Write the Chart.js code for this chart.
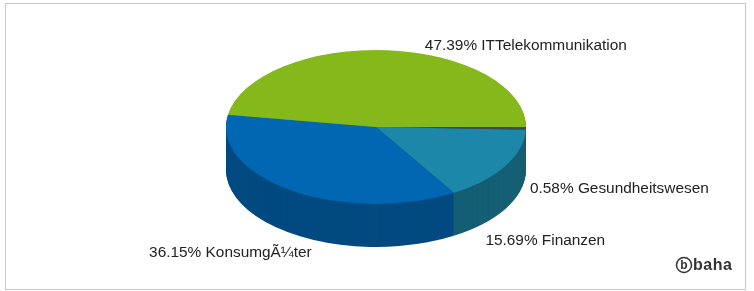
<!DOCTYPE html>
<html>
<head>
    <meta charset="utf-8">
    <title>Branchenverteilung</title>
    <script src="https://cdn.jsdelivr.net/npm/chart.js"></script>
    <style>
        body {
            margin: 0;
            background: #fff;
        }
        .frame {
            position: absolute;
            left: 5px;
            top: 3px;
            width: 741px;
            height: 287px;
            box-sizing: border-box;
            border: 1px solid #c8c8c8;
        }
        canvas {
            position: absolute;
            left: 0;
            top: 0;
        }
    </style>
</head>
<body>
    <div class="frame"></div>
    <canvas id="pieChart" width="754" height="291"></canvas>

    <script>
        // data, clockwise from 3 o'clock
        const categories = ["Gesundheitswesen", "Finanzen", "KonsumgÃ¼ter", "ITTelekommunikation"];
        const shares = [0.58, 15.69, 36.15, 47.39];

        const topColors = ["#3c4b52", "#1c87a8", "#0167b2", "#85b81a"];
        const sideColors = ["#2a3236", "#155f74", "#024a80", "#5d8412"];

        // look of the 3d pie
        const tilt = 0.513;     // vertical squash of the top face
        const depth = 43;       // side height in screen px
        // label nudge from the slice's outer point, and which side the text hangs from
        const labelNudge = [[4, 17], [-20, 32], [-62, 19], [37, -5]];
        const labelAlign = ["left", "left", "center", "left"];

        const pie3d = {
            id: "pie3d",
            beforeDatasetsDraw(chart) {
                const ctx = chart.ctx;
                const arcs = chart.getDatasetMeta(0).data;
                const cx = arcs[0].x, cy = arcs[0].y;
                ctx.save();
                ctx.translate(cx, cy);
                ctx.scale(1, tilt);
                ctx.translate(-cx, -cy);

                // side walls: stack the sectors from the bottom up
                for (let d = depth; d > 0; d -= 1) {
                    arcs.forEach((arc, i) => {
                        const p = arc.getProps(["x", "y", "startAngle", "endAngle", "outerRadius"]);
                        const oy = p.y + d / tilt;
                        ctx.beginPath();
                        ctx.moveTo(p.x, oy);
                        ctx.arc(p.x, oy, p.outerRadius, p.startAngle, p.endAngle);
                        ctx.closePath();
                        ctx.fillStyle = sideColors[i];
                        ctx.fill();
                    });
                }
            },
            afterDatasetsDraw(chart) {
                const ctx = chart.ctx;
                ctx.restore();

                const arcs = chart.getDatasetMeta(0).data;
                ctx.save();
                ctx.font = "15.4px 'Liberation Sans', Arial, sans-serif";
                ctx.fillStyle = "#222";
                ctx.textBaseline = "middle";
                arcs.forEach((arc, i) => {
                    const p = arc.getProps(["x", "y", "startAngle", "endAngle", "outerRadius"]);
                    const mid = (p.startAngle + p.endAngle) / 2;
                    let ax = p.x + p.outerRadius * Math.cos(mid);
                    let ay = p.y + p.outerRadius * tilt * Math.sin(mid);
                    if (Math.sin(mid) > 0) ay += depth;
                    ctx.textAlign = labelAlign[i];
                    const text = shares[i].toFixed(2) + "% " + categories[i];
                    ctx.fillText(text, ax + labelNudge[i][0], ay + labelNudge[i][1]);
                });
                ctx.restore();
            },
            afterDraw(chart) {
                // baha logo
                const ctx = chart.ctx;
                ctx.save();
                ctx.strokeStyle = "#333";
                ctx.lineWidth = 1.5;
                ctx.beginPath();
                ctx.arc(684, 265, 7.5, 0, Math.PI * 2);
                ctx.stroke();
                ctx.fillStyle = "#333";
                ctx.textBaseline = "middle";
                ctx.textAlign = "center";
                ctx.font = "bold 12px 'Liberation Sans', Arial, sans-serif";
                ctx.fillText("b", 684, 265.5);
                ctx.textAlign = "left";
                ctx.font = "bold 16px 'Liberation Sans', Arial, sans-serif";
                ctx.letterSpacing = "0.5px";
                ctx.fillText("baha", 693, 265.5);
                ctx.restore();
            }
        };

        new Chart(document.getElementById("pieChart").getContext("2d"), {
            type: "pie",
            data: {
                labels: categories,
                datasets: [{
                    data: shares,
                    backgroundColor: topColors,
                    borderWidth: 0,
                    clip: false
                }]
            },
            options: {
                responsive: false,
                animation: false,
                events: [],
                rotation: 90,
                radius: 150,
                layout: {
                    padding: { left: 0, right: 2, top: 0, bottom: 37 }
                },
                plugins: {
                    legend: { display: false },
                    tooltip: { enabled: false }
                }
            },
            plugins: [pie3d]
        });
    </script>
</body>
</html>
